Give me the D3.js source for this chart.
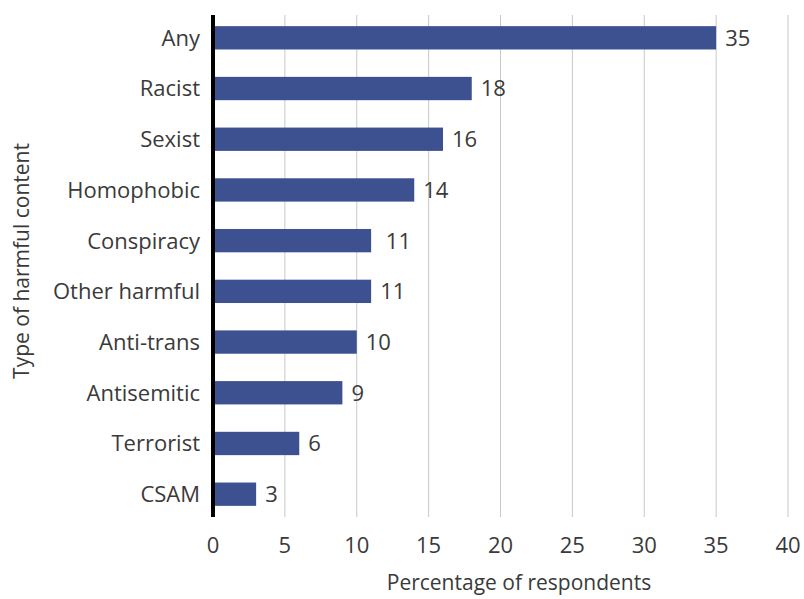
<!DOCTYPE html>
<html>
<head>
<meta charset="utf-8">
<script src="https://cdn.jsdelivr.net/npm/d3@7"></script>
<style>
  body { margin: 0; background: #fff; }
  text { font-family: "Open Sans", "Noto Sans", sans-serif; fill: #3a3a3a; white-space: pre; }
</style>
</head>
<body>
<svg width="804" height="599"></svg>
<script>
var categories = ['Any', 'Racist', 'Sexist', 'Homophobic', 'Conspiracy', 'Other harmful',
  'Anti-trans', 'Antisemitic', 'Terrorist', 'CSAM'];
var values = [35, 18, 16, 14, 11, 11, 10, 9, 6, 3];
var valueLabels = ['35', '18', '16', '14', ' 11', '11', '10', '9', '6', '3'];
var xTicks = [0, 5, 10, 15, 20, 25, 30, 35, 40];

var svg = d3.select('svg');
var margin = {top: 15, right: 16, bottom: 82, left: 213};
var width = 788 - margin.left;
var height = 517 - margin.top;
var g = svg
  .append('g')
  .attr('transform', 'translate(' + margin.left + ',' + margin.top + ')');

var x = d3.scaleLinear().domain([0, 40]).range([0, width]);
var y = d3.scaleBand().domain(categories).range([0, height]).paddingInner(0.54).paddingOuter(0.22);

// gridlines
g.append('g')
  .selectAll('line')
  .data(xTicks.slice(1))
  .enter()
  .append('line')
  .attr('x1', function(d) { return x(d); })
  .attr('x2', function(d) { return x(d); })
  .attr('y1', 0)
  .attr('y2', height)
  .attr('stroke', '#c8c8c8')
  .attr('stroke-width', 1);

// x tick labels
g.append('g')
  .selectAll('text')
  .data(xTicks)
  .enter()
  .append('text')
  .attr('x', function(d) { return x(d); })
  .attr('y', 36)
  .attr('transform', 'translate(0,' + height + ')')
  .attr('text-anchor', 'middle')
  .style('font-size', '22px')
  .text(function(d) { return d; });

// bars
g.append('g')
  .selectAll('rect')
  .data(values)
  .enter()
  .append('rect')
  .attr('x', 0)
  .attr('y', function(d, i) { return y(categories[i]); })
  .attr('width', function(d) { return x(d); })
  .attr('height', y.bandwidth())
  .attr('fill', '#3d5191');

// value labels
g.append('g')
  .selectAll('text')
  .data(values)
  .enter()
  .append('text')
  .attr('x', function(d) { return x(d) + 9; })
  .attr('y', function(d, i) { return y(categories[i]) + y.bandwidth() / 2; })
  .attr('dy', '0.36em')
  .style('font-size', '22px')
  .text(function(d, i) { return valueLabels[i]; });

// category labels
g.append('g')
  .selectAll('text')
  .data(categories)
  .enter()
  .append('text')
  .attr('x', -13)
  .attr('y', function(d) { return y(d) + y.bandwidth() / 2; })
  .attr('dy', '0.36em')
  .attr('text-anchor', 'end')
  .style('font-size', '22px')
  .text(function(d) { return d; });

// y axis line
g.append('line')
  .attr('x1', 0)
  .attr('x2', 0)
  .attr('y1', 0)
  .attr('y2', height)
  .attr('stroke', '#000')
  .attr('stroke-width', 4);

// axis titles
svg.append('text')
  .attr('x', 519)
  .attr('y', 590)
  .attr('text-anchor', 'middle')
  .style('font-size', '21px')
  .text('Percentage of respondents');

svg.append('text')
  .attr('transform', 'translate(29,261) rotate(-90)')
  .attr('text-anchor', 'middle')
  .style('font-size', '21px')
  .text('Type of harmful content');
</script>
</body>
</html>
